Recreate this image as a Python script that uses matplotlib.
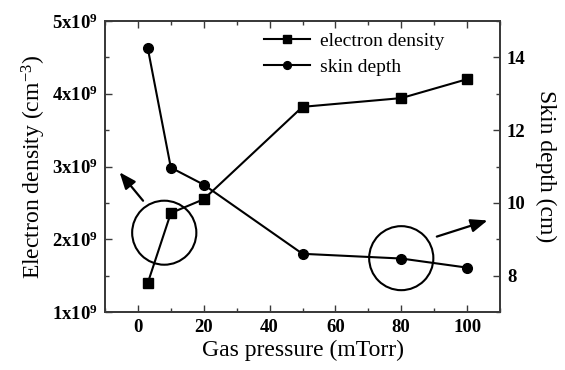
import matplotlib
matplotlib.use("Agg")
import matplotlib.pyplot as plt
from matplotlib.patches import Ellipse
from matplotlib.ticker import MultipleLocator, FuncFormatter

plt.rcParams["font.family"] = ["Liberation Serif", "DejaVu Serif"]
plt.rcParams["mathtext.fontset"] = "custom"
plt.rcParams["mathtext.rm"] = "Liberation Serif"
plt.rcParams["mathtext.it"] = "Liberation Serif:italic"
plt.rcParams["mathtext.bf"] = "Liberation Serif:bold"

# data
pressure = [3, 10, 20, 50, 80, 100]                       # mTorr
density = [1.40e9, 2.36e9, 2.55e9, 3.82e9, 3.94e9, 4.20e9]  # cm^-3
skin = [14.25, 10.97, 10.5, 8.6, 8.47, 8.22]               # cm

fig = plt.figure(figsize=(5.65, 3.70), dpi=100)
ax = fig.add_subplot(111)
fig.subplots_adjust(left=105/565, right=500/565, top=1-21/370, bottom=1-312/370)
ax2 = ax.twinx()

l1, = ax.plot(pressure, density, "-s", color="black", lw=1.5, ms=6.5,
              label="electron density")
l2, = ax2.plot(pressure, skin, "-o", color="black", lw=1.5, ms=7,
               label="skin depth")

ax.set_xlim(-10, 110)
ax.set_ylim(1e9, 5e9)
ax2.set_ylim(7, 15)

ax.xaxis.set_major_locator(MultipleLocator(20))
ax.xaxis.set_minor_locator(MultipleLocator(10))
ax.yaxis.set_major_locator(MultipleLocator(1e9))
ax.yaxis.set_minor_locator(MultipleLocator(0.5e9))
ax2.yaxis.set_major_locator(MultipleLocator(2))
ax2.yaxis.set_minor_locator(MultipleLocator(1))

def dens_fmt(v, pos):
    return "%dx10$^{\\mathbf{9}}$" % round(v / 1e9)

ax.yaxis.set_major_formatter(FuncFormatter(dens_fmt))

edge = "#3a3a3a"
for a in (ax, ax2):
    a.tick_params(which="both", direction="in", width=1.0, labelsize=13.5,
                  color=edge, pad=5)
    a.tick_params(which="major", length=5)
    a.tick_params(which="minor", length=3)
    for s in a.spines.values():
        s.set_linewidth(1.3)
        s.set_color(edge)
ax.tick_params(which="both", top=True)
for lab in ax.get_xticklabels() + ax.get_yticklabels() + ax2.get_yticklabels():
    lab.set_fontweight("bold")

ax.set_xlabel("Gas pressure (mTorr)", fontsize=17, labelpad=3)
ax.set_ylabel("Electron density (cm$^{-3}$)", fontsize=17, labelpad=3)
ax2.set_ylabel("Skin depth (cm)", fontsize=17, rotation=270, labelpad=22)

ax2.legend(handles=[l1, l2], loc="upper left", bbox_to_anchor=(0.372, 1.0),
           frameon=False, fontsize=14, handlelength=2.4, handletextpad=0.5,
           labelspacing=0.4, markerscale=0.8, borderaxespad=0.2)

# highlight circles and arrows
ax.add_patch(Ellipse((8, 2.09e9), 19.5, 0.88e9, fill=False, lw=1.5, color="black"))
ax.add_patch(Ellipse((80, 1.74e9), 19.5, 0.88e9, fill=False, lw=1.5, color="black"))
arrow = dict(arrowstyle="-|>,head_length=1.0,head_width=0.4", color="black", lw=1.6)
ax.annotate("", xy=(-6.1, 2.95e9), xytext=(2.1, 2.5e9), arrowprops=arrow)
ax2.annotate("", xy=(107, 9.54), xytext=(90, 9.05), arrowprops=arrow)

fig.savefig("out.png", dpi=100)
